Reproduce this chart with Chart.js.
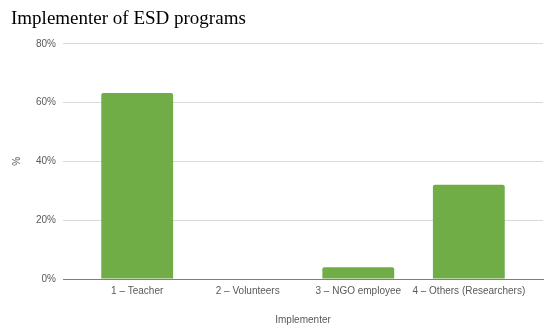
<!DOCTYPE html>
<html>
<head>
<meta charset="utf-8">
<script src="https://cdn.jsdelivr.net/npm/chart.js@4"></script>
<style>
  html, body { margin: 0; padding: 0; background: #fff; }
  #wrap { width: 550px; height: 332px; }
</style>
</head>
<body>
<div id="wrap"><canvas id="c" width="550" height="332"></canvas></div>
<script>
const categories = ["1 \u2013 Teacher", "2 \u2013 Volunteers", "3 \u2013 NGO employee", "4 \u2013 Others (Researchers)"];
const percentValues = [63.3, 0, 4.0, 32.1];
const yTicks = [0, 20, 40, 60, 80];

const textColor = '#595959';
const font = { family: "'Liberation Sans', Arial, sans-serif", size: 10 };

new Chart(document.getElementById('c'), {
  type: 'bar',
  data: {
    datasets: [{
      data: categories.map((c, i) => ({ x: i, y: percentValues[i] })),
      backgroundColor: '#70AD47',
      borderRadius: 2,
      borderSkipped: 'bottom',
      categoryPercentage: 1,
      barPercentage: 0.65
    }]
  },
  options: {
    responsive: false,
    animation: false,
    layout: { padding: { top: 7, left: 11, right: 7, bottom: 6 } },
    plugins: {
      legend: { display: false },
      tooltip: { enabled: false },
      title: {
        display: true,
        text: 'Implementer of ESD programs',
        align: 'start',
        color: '#000',
        font: { family: "'Liberation Serif', 'Times New Roman', serif", size: 19, weight: 'normal' },
        padding: { top: 1, bottom: 13 }
      }
    },
    scales: {
      x: {
        type: 'linear',
        min: -0.671,
        max: 3.671,
        offset: false,
        afterBuildTicks: (axis) => { axis.ticks = categories.map((c, i) => ({ value: i })); },
        grid: { display: false, drawTicks: false },
        border: { display: true, color: '#7f7f7f', width: 1 },
        ticks: {
          autoSkip: false,
          maxRotation: 0,
          padding: 6,
          color: textColor,
          font: font,
          callback: (v) => categories[v]
        },
        title: {
          display: true,
          text: 'Implementer',
          color: textColor,
          font: font,
          padding: { top: 11, bottom: 0 }
        }
      },
      y: {
        min: 0,
        max: 80,
        afterBuildTicks: (axis) => { axis.ticks = yTicks.map(v => ({ value: v })); },
        grid: {
          drawTicks: false,
          color: (ctx) => ctx.tick && ctx.tick.value === 0 ? '#7f7f7f' : '#d9d9d9',
          lineWidth: 1
        },
        border: { display: false },
        ticks: {
          padding: 7,
          color: textColor,
          font: font,
          callback: (v) => v + '%'
        },
        title: {
          display: true,
          text: '%',
          color: textColor,
          font: font,
          padding: { top: 0, bottom: 6 }
        }
      }
    }
  }
});
</script>
</body>
</html>
